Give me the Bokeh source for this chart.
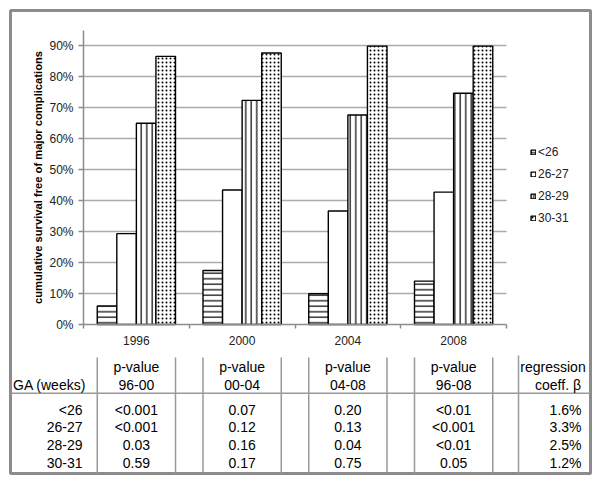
from bokeh.plotting import figure
from bokeh.models import (Range1d, FixedTicker, NumeralTickFormatter, LinearAxis,
                          Legend, LegendItem)
from bokeh.embed import file_html
from bokeh.resources import INLINE
from bokeh.core.properties import value

# ---------------- data ----------------
years = ["1996", "2000", "2004", "2008"]
ga_groups = ["<26", "26-27", "28-29", "30-31"]
surv_lt26 = [0.060, 0.174, 0.099, 0.140]
surv_26_27 = [0.293, 0.434, 0.366, 0.427]
surv_28_29 = [0.649, 0.723, 0.676, 0.746]
surv_30_31 = [0.865, 0.876, 0.898, 0.898]
y_ticks = [0.0, 0.1, 0.2, 0.3, 0.4, 0.5, 0.6, 0.7, 0.8, 0.9]

period_labels = ["96-00", "00-04", "04-08", "96-08"]
p_96_00 = ["<0.001", "<0.001", "0.03", "0.59"]
p_00_04 = ["0.07", "0.12", "0.16", "0.17"]
p_04_08 = ["0.20", "0.13", "0.04", "0.75"]
p_96_08 = ["<0.01", "<0.001", "<0.01", "0.05"]
reg_coeff = ["1.6%", "3.3%", "2.5%", "1.2%"]

# ---------------- layout constants (pixels) ----------------
W, H = 600, 483
FONT = "Liberation Sans"
frame_l, frame_r, frame_t, frame_b = 10, 590, 10, 473   # in window coords
chart_l, chart_r = 83, 506
y0_px, px_per_10 = 324, 31.0
ncat = len(years)
px_cat = (chart_r - chart_l) / ncat

x_start = -(chart_l - frame_l) / px_cat
x_end = ncat + (frame_r - chart_r) / px_cat
y_start = -(frame_b - y0_px) / (px_per_10 * 10)
y_end = (y0_px - frame_t) / (px_per_10 * 10)

row_px = 17.6
row0_px = 366.7
t_start = (frame_b - row0_px) / row_px
t_end = (frame_t - row0_px) / row_px

p = figure(width=W, height=H, x_range=Range1d(x_start, x_end),
           y_range=Range1d(y_start, y_end), x_axis_type=None, y_axis_type=None,
           output_backend="svg", toolbar_location=None,
           min_border_left=frame_l, min_border_right=W - frame_r,
           min_border_top=frame_t, min_border_bottom=H - frame_b)
p.extra_y_ranges = {"table": Range1d(start=t_start, end=t_end)}
p.outline_line_color = "#8c8c8c"
p.outline_line_width = 3
p.background_fill_color = "white"
p.border_fill_color = "white"

# gridlines (from tick list, across the categorical extent)
grid_y = y_ticks[1:]
p.segment(x0=[0] * len(grid_y), x1=[ncat] * len(grid_y), y0=grid_y, y1=grid_y,
          line_color="#ababab", line_width=1.5)

# bars
centers = [i + 0.5 for i in range(ncat)]
bw = 0.185
offsets = [-1.5 * bw, -0.5 * bw, 0.5 * bw, 1.5 * bw]
series = [surv_lt26, surv_26_27, surv_28_29, surv_30_31]
hatches = [dict(hatch_pattern="horizontal_line", hatch_scale=5.5, hatch_weight=1.2),
           dict(),
           dict(hatch_pattern="vertical_line", hatch_scale=5.5, hatch_weight=1.2),
           dict(hatch_pattern="dot", hatch_scale=4, hatch_weight=1.1)]
renderers = []
for vals, off, h in zip(series, offsets, hatches):
    r = p.vbar(x=[c + off for c in centers], top=vals, bottom=0, width=bw,
               fill_color="white", line_color="black", line_width=1.4,
               hatch_color="black", **h)
    renderers.append(r)

# axes
xaxis = LinearAxis(fixed_location=0, bounds=(0, ncat),
                   ticker=FixedTicker(ticks=centers, minor_ticks=list(range(ncat + 1))),
                   major_label_overrides={c: y for c, y in zip(centers, years)})
xaxis.axis_line_color = "#8c8c8c"
xaxis.axis_line_width = 1.5
xaxis.major_tick_line_color = None
xaxis.minor_tick_line_color = "#8c8c8c"
xaxis.minor_tick_line_width = 1.5
xaxis.minor_tick_out = 4
xaxis.minor_tick_in = 0
xaxis.major_label_standoff = 5
xaxis.major_label_text_font = FONT
xaxis.major_label_text_font_size = "12px"
xaxis.major_label_text_color = "#222222"
p.add_layout(xaxis, "below")

yaxis = LinearAxis(fixed_location=0, bounds=(0, 0.95),
                   ticker=FixedTicker(ticks=y_ticks),
                   formatter=NumeralTickFormatter(format="0%"),
                   axis_label="cumulative survival free of major complications")
yaxis.axis_line_color = "#8c8c8c"
yaxis.axis_line_width = 1.5
yaxis.major_tick_line_color = "#8c8c8c"
yaxis.major_tick_line_width = 1.5
yaxis.major_tick_out = 5
yaxis.major_tick_in = 0
yaxis.minor_tick_line_color = None
yaxis.major_label_standoff = 5
yaxis.major_label_text_font = FONT
yaxis.major_label_text_font_size = "12px"
yaxis.major_label_text_color = "#222222"
yaxis.axis_label_text_font = FONT
yaxis.axis_label_text_font_size = "11.2px"
yaxis.axis_label_text_font_style = "bold"
yaxis.axis_label_text_color = "black"
yaxis.axis_label_standoff = 2
p.add_layout(yaxis, "left")

# legend
legend = Legend(items=[LegendItem(label=g, renderers=[r]) for g, r in zip(ga_groups, renderers)],
                location=(520, 248), orientation="vertical",
                glyph_width=6, glyph_height=6, label_standoff=2, label_height=14,
                spacing=8, padding=0, margin=0, border_line_color=None,
                background_fill_alpha=0, label_text_font=FONT,
                label_text_font_size="12px", label_text_color="#222222")
p.add_layout(legend)

# ---------------- table ----------------
tf = dict(text_font=value(FONT), text_font_size="14px", text_color="black",
          text_baseline="middle", y_range_name="table")
line_col = "#9a9a9a"

# horizontal separator
sep_y = (392.7 - row0_px) / row_px
p.segment(x0=[x_start], x1=[x_end], y0=[sep_y], y1=[sep_y], y_range_name="table",
          line_color=line_col, line_width=1.5)

# vertical separators at the edges of each bar group, plus one before the regression column
half = 2 * bw
vx = []
for c in centers:
    vx += [c - half, c + half]
top_y = (357 - row0_px) / row_px
p.segment(x0=vx, x1=vx, y0=[top_y] * len(vx), y1=[t_start] * len(vx), y_range_name="table",
          line_color=line_col, line_width=1.5)
reg_x = ncat + (518 - chart_r) / px_cat
p.segment(x0=[reg_x], x1=[reg_x], y0=[(355 - row0_px) / row_px], y1=[t_start],
          y_range_name="table", line_color=line_col, line_width=1.5)

# header
p.text(x=centers, y=[0] * ncat, text=["p-value"] * ncat, text_align="center", **tf)
p.text(x=centers, y=[1] * ncat, text=period_labels, text_align="center", **tf)
p.text(x=[x_start + 2.5 / px_cat], y=[1], text=["GA (weeks)"], text_align="left", **tf)
reg_c = ncat + (552.5 - chart_r) / px_cat
p.text(x=[reg_c, reg_c + 5 / px_cat], y=[0, 1], text=["regression", "coeff. \u03b2"],
       text_align="center", **tf)

# body rows
first_row = (409.3 - row0_px) / row_px
rows_y = [first_row + i for i in range(len(ga_groups))]
p.text(x=[0] * len(ga_groups), y=rows_y, text=ga_groups, text_align="right", x_offset=-1, **tf)
for c, col in zip(centers, [p_96_00, p_00_04, p_04_08, p_96_08]):
    p.text(x=[c] * len(col), y=rows_y, text=col, text_align="center", **tf)
reg_r = ncat + (581 - chart_r) / px_cat
p.text(x=[reg_r] * len(reg_coeff), y=rows_y, text=reg_coeff, text_align="right", **tf)

open("out.html", "w").write(file_html(p, INLINE))
